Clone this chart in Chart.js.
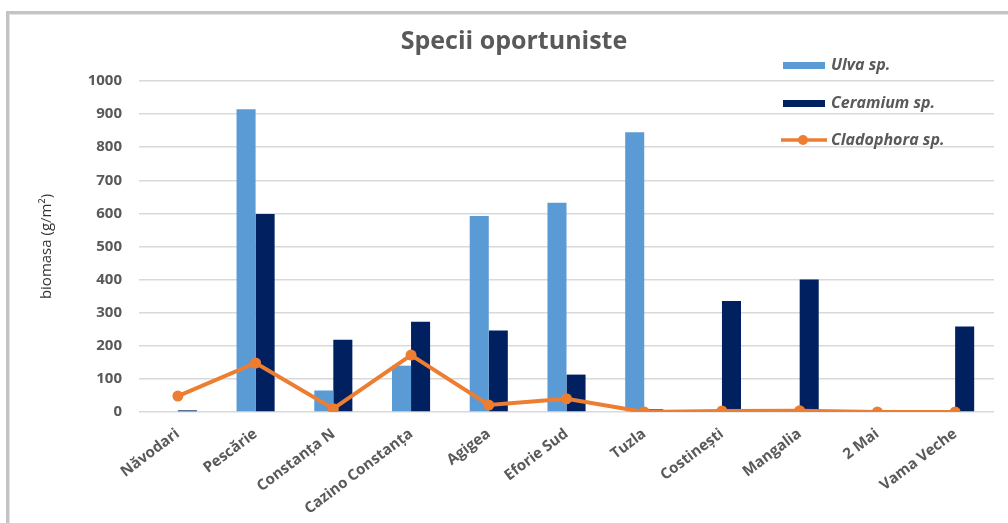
<!DOCTYPE html>
<html>
<head>
<meta charset="utf-8">
<script src="https://cdn.jsdelivr.net/npm/chart.js@4/dist/chart.umd.min.js"></script>
<style>
  html, body { margin: 0; padding: 0; background: #ffffff; }
  #wrap { position: relative; width: 1008px; height: 523px; }
</style>
</head>
<body>
<div id="wrap"><canvas id="c" width="1008" height="523"></canvas></div>
<script>
// Sampling stations along the coast
const stations = ['Năvodari', 'Pescărie', 'Constanța N', 'Cazino Constanța', 'Agigea',
  'Eforie Sud', 'Tuzla', 'Costinești', 'Mangalia', '2 Mai', 'Vama Veche'];

// Biomass (g/m²) per species
const ulva = [0, 915, 65, 140, 592, 632, 845, 0, 0, 0, 0];
const ceramium = [5, 598, 218, 273, 246, 113, 8, 335, 400, 0, 258];
const cladophora = [48, 148, 10, 172, 21, 40, 0, 3, 4, 0, 0];

const seriesNames = ['Ulva sp.', 'Ceramium sp.', 'Cladophora sp.'];
const chartTitle = 'Specii oportuniste';
const yTitle = 'biomasa (g/m²)';
const yTicks = [0, 100, 200, 300, 400, 500, 600, 700, 800, 900, 1000];

const COL_ULVA = '#5b9bd5';
const COL_CER = '#002060';
const COL_CLAD = '#ed7d31';
const TXT = '#595959';
const FONT = '"Open Sans", "Liberation Sans", sans-serif';

// Frame, title, axis title and legend drawn onto the canvas
const decor = {
  id: 'decor',
  beforeDraw(chart) {
    const ctx = chart.ctx;
    ctx.save();
    ctx.fillStyle = '#c4c4c4';
    ctx.fillRect(6, 11, 1008, 3);
    ctx.fillRect(6, 11, 3, 523);
    ctx.fillStyle = '#e2e2e2';
    ctx.fillRect(9, 14, 1008, 1);
    ctx.fillRect(9, 14, 1, 523);
    ctx.restore();
  },
  afterDraw(chart) {
    const ctx = chart.ctx;
    const area = chart.chartArea;
    ctx.save();
    // chart title
    ctx.fillStyle = TXT;
    ctx.font = 'bold 25px ' + FONT;
    ctx.textAlign = 'center';
    ctx.textBaseline = 'middle';
    ctx.fillText(chartTitle, 514, 42);

    // y-axis title
    ctx.save();
    ctx.translate(47, (area.top + area.bottom) / 2);
    ctx.rotate(-Math.PI / 2);
    ctx.fillStyle = '#333333';
    ctx.font = '15px ' + FONT;
    ctx.fillText(yTitle, 0, 0);
    ctx.restore();

    // legend
    ctx.textAlign = 'left';
    ctx.textBaseline = 'middle';
    ctx.font = 'italic bold 16px ' + FONT;
    const items = chart.data.datasets;
    const rows = [65, 103, 140];
    items.forEach((ds, i) => {
      const y = rows[i];
      if (ds.type === 'line') {
        ctx.strokeStyle = ds.borderColor;
        ctx.lineWidth = 3.5;
        ctx.beginPath();
        ctx.moveTo(781, y);
        ctx.lineTo(827, y);
        ctx.stroke();
        ctx.fillStyle = ds.borderColor;
        ctx.beginPath();
        ctx.arc(803, y, 5, 0, Math.PI * 2);
        ctx.fill();
      } else {
        ctx.fillStyle = ds.backgroundColor;
        ctx.fillRect(783, y - 3, 42, 7);
      }
      ctx.fillStyle = TXT;
      ctx.fillText(ds.label, 831, y);
    });
    ctx.restore();
  }
};

new Chart(document.getElementById('c'), {
  type: 'bar',
  data: {
    labels: stations,
    datasets: [
      { label: seriesNames[0], data: ulva, backgroundColor: COL_ULVA, order: 2,
        categoryPercentage: 0.49, barPercentage: 1 },
      { label: seriesNames[1], data: ceramium, backgroundColor: COL_CER, order: 2,
        categoryPercentage: 0.49, barPercentage: 1 },
      { type: 'line', label: seriesNames[2], data: cladophora, borderColor: COL_CLAD,
        backgroundColor: COL_CLAD, borderWidth: 4, pointRadius: 5.5, pointHoverRadius: 5.5,
        pointBackgroundColor: COL_CLAD, pointBorderWidth: 0, tension: 0, order: 0 }
    ]
  },
  options: {
    responsive: false,
    animation: false,
    events: [],
    layout: { padding: { top: 81, right: 14, left: 0, bottom: 0 } },
    plugins: {
      legend: { display: false },
      title: { display: false },
      tooltip: { enabled: false }
    },
    scales: {
      x: {
        offset: true,
        grid: { display: false },
        border: { display: false },
        ticks: {
          color: TXT,
          font: { family: FONT, size: 15, weight: 'bold' },
          minRotation: 37,
          maxRotation: 37,
          autoSkip: false,
          padding: 5
        },
        afterFit(scale) { scale.height = 111; }
      },
      y: {
        min: 0,
        max: 1000,
        afterBuildTicks(scale) { scale.ticks = yTicks.map(v => ({ value: v })); },
        grid: { color: '#d9d9d9', lineWidth: 1.5, drawTicks: false },
        border: { display: false },
        ticks: {
          color: TXT,
          font: { family: FONT, size: 15, weight: 'bold' },
          padding: 17,
          callback: (v) => String(v)
        },
        afterFit(scale) { scale.width = 139; }
      }
    }
  },
  plugins: [decor]
});
</script>
</body>
</html>
